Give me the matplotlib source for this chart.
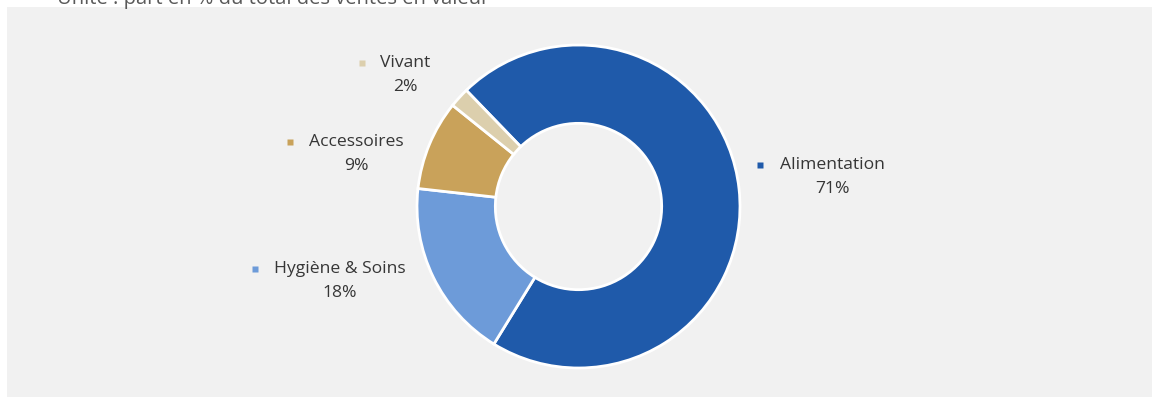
import matplotlib
matplotlib.use("Agg")
import matplotlib.pyplot as plt
from matplotlib.patches import Rectangle

# share of total sales value, by category
categories = ["Alimentation", "Hygiène & Soins", "Accessoires", "Vivant"]
shares = [71, 18, 9, 2]
colors = ["#1f5aaa", "#6d9bd9", "#c9a25a", "#dccfad"]

W, H = 1154, 399
plt.rcParams["font.family"] = ["Open Sans", "DejaVu Sans"]

fig = plt.figure(figsize=(W / 100, H / 100), dpi=100)
fig.patch.set_facecolor("white")
ax = fig.add_axes([0, 0, 1, 1])
ax.set_axis_off()

# grey chart area
ax.add_patch(Rectangle((7, 2), 1145, 390, facecolor="#f1f1f1",
                       edgecolor="none", zorder=0))

cx, cy, r = 578.5, H - 206.5, 161.5
wedges, _ = ax.pie(shares, colors=colors, startangle=134, counterclock=False,
                   center=(cx, cy), radius=r,
                   wedgeprops=dict(width=r * 0.485, edgecolor="white", linewidth=2))
for w in wedges:
    w.set_zorder(2)

ax.set_xlim(0, W)
ax.set_ylim(0, H)
ax.set_aspect("equal")

# label layout: (marker x, text centre x, name y) in pixels from the top-left
label_pos = {
    "Alimentation": (760, 832, 165),
    "Hygiène & Soins": (255, 340, 269),
    "Accessoires": (290, 356, 142),
    "Vivant": (362, 405, 63),
}
for name, val, col in zip(categories, shares, colors):
    mx, tx, ty = label_pos[name]
    ax.plot(mx, H - ty, marker="s", ms=4.5, color=col, mec="none", zorder=3)
    ax.text(tx, H - ty, name, ha="center", va="center",
            fontsize=12.6, color="#363636", zorder=3)
    ax.text(tx, H - ty - 24, f"{val}%", ha="center", va="center",
            fontsize=12.6, color="#363636", zorder=3)

ax.text(57, H - 4, "Unité : part en % du total des ventes en valeur",
        ha="left", va="baseline", fontsize=14.5, color="#595959", zorder=3)

fig.savefig("out.png", dpi=100, facecolor="white")
